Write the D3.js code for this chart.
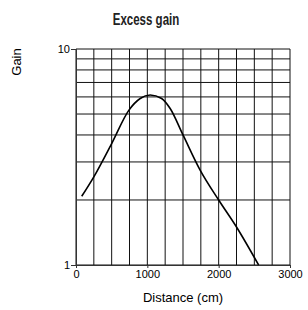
<!DOCTYPE html>
<html lang="en">
<head>
	<meta charset="UTF-8">
	<title>Excess gain</title>
	<script src="https://d3js.org/d3.v7.min.js"></script>
	<style>
		body { margin: 0; background: #fff; }
		text { font-family: "Liberation Sans", Arial, sans-serif; }
	</style>
</head>
<body>
<script>
	// ----data----
	var distance = [80, 250, 500, 740, 900, 1040, 1200, 1320, 1500, 1740, 2000, 2250, 2560];
	var gain = [2.08, 2.56, 3.65, 5.2, 5.9, 6.12, 5.9, 5.3, 4.0, 2.75, 2.0, 1.5, 1.0];
	var xTicks = [0, 1000, 2000, 3000];
	var yTicks = [1, 10];

	var margin = {top: 49, bottom: 45, left: 76, right: 18};
	var W = 308, H = 310;
	var width = W - margin.left - margin.right,
		height = H - margin.top - margin.bottom;

	var svg = d3.select('body').append('svg')
		.attr('width', W)
		.attr('height', H);

	var g = svg.append('g')
		.attr('transform', 'translate(' + margin.left + ',' + margin.top + ')');

	var x = d3.scaleLinear().domain([0, 3000]).range([0, width]);
	var y = d3.scaleLog().domain([1, 10]).range([height, 0]);

	//----grid----
	g.append('g').selectAll('line')
		.data(d3.range(0, 3001, 250))
		.enter().append('line')
		.attr('x1', function (d) { return x(d); })
		.attr('x2', function (d) { return x(d); })
		.attr('y1', 0).attr('y2', height)
		.attr('stroke', '#111').attr('stroke-width', 1);

	g.append('g').selectAll('line')
		.data(d3.range(1, 11))
		.enter().append('line')
		.attr('x1', 0).attr('x2', width)
		.attr('y1', function (d) { return y(d); })
		.attr('y2', function (d) { return y(d); })
		.attr('stroke', '#111').attr('stroke-width', 1);

	//----axes----
	var xAxis = g.append('g')
		.attr('transform', 'translate(0,' + height + ')')
		.call(d3.axisBottom(x).tickValues(xTicks).tickFormat(d3.format('d')).tickSize(3).tickPadding(2));
	var yAxis = g.append('g')
		.call(d3.axisLeft(y).tickValues(yTicks).tickFormat(d3.format('d')).tickSize(5).tickPadding(1));

	[xAxis, yAxis].forEach(function (a) {
		a.select('.domain').attr('stroke', '#333');
		a.selectAll('.tick line').attr('stroke', '#333');
		a.selectAll('.tick text').attr('fill', '#000').style('font-size', '11px')
			.style('font-family', '"Liberation Sans", Arial, sans-serif');
	});

	//----curve----
	var line = d3.line()
		.x(function (d, i) { return x(distance[i]); })
		.y(function (d) { return y(d); })
		.curve(d3.curveMonotoneX);

	g.append('path')
		.datum(gain)
		.attr('d', line)
		.attr('fill', 'none')
		.attr('stroke', '#000')
		.attr('stroke-width', 1.6);

	//----labels----
	svg.append('text')
		.attr('transform', 'translate(146,25) scale(0.72,1)')
		.attr('text-anchor', 'middle')
		.style('font-family', '"Liberation Sans", Arial, sans-serif')
		.style('font-weight', 'bold')
		.style('font-size', '16px')
		.attr('fill', '#222')
		.text('Excess gain');

	svg.append('text')
		.attr('transform', 'translate(21,62) rotate(-90)')
		.attr('text-anchor', 'middle')
		.style('font-size', '13px')
		.text('Gain');

	svg.append('text')
		.attr('x', 183).attr('y', 302)
		.attr('text-anchor', 'middle')
		.style('font-size', '13px')
		.text('Distance (cm)');
</script>
</body>
</html>
